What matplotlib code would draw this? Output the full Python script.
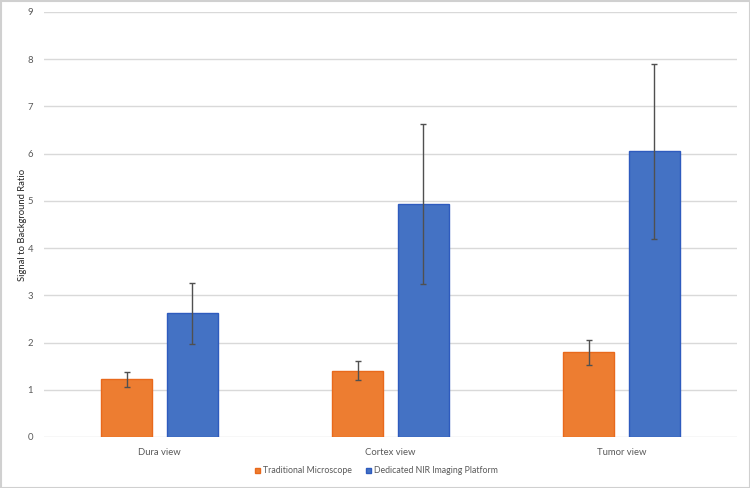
import numpy as np
import matplotlib.pyplot as plt
from matplotlib.patches import Rectangle

categories = ["Dura view", "Cortex view", "Tumor view"]
trad_vals = [1.22, 1.40, 1.79]
trad_err = [0.16, 0.20, 0.26]
nir_vals = [2.62, 4.94, 6.05]
nir_err = [0.64, 1.69, 1.85]

plt.rcParams['font.family'] = ['Lato', 'DejaVu Sans']

fig = plt.figure(figsize=(7.5, 4.88), dpi=100)
ax = fig.add_axes([44/750, 1-437/488, (737-44)/750, (437-12)/488])

x = np.arange(len(categories))
w = 0.22
gap = 0.065
off = (w + gap) / 2

ax.bar(x - off, trad_vals, w, color='#ED7D31', edgecolor='#E8691C', linewidth=1,
       label='Traditional Microscope', zorder=3)
ax.bar(x + off, nir_vals, w, color='#4472C4', edgecolor='#2E5BBE', linewidth=1,
       label='Dedicated NIR Imaging Platform', zorder=3)
ax.errorbar(x - off, trad_vals, yerr=trad_err, fmt='none', ecolor='#505050',
            elinewidth=1, capsize=2.5, capthick=1, zorder=4)
ax.errorbar(x + off, nir_vals, yerr=nir_err, fmt='none', ecolor='#505050',
            elinewidth=1, capsize=2.5, capthick=1, zorder=4)

ax.set_xlim(-0.5, 2.5)
ax.set_ylim(0, 9)
ax.set_yticks(range(0, 10))
ax.set_xticks(x)
ax.set_xticklabels(categories)
ax.yaxis.grid(True, color='#D9D9D9', linewidth=1, zorder=0)
for s in ax.spines.values():
    s.set_visible(False)
ax.tick_params(axis='both', length=0, labelsize=6.8, colors='#595959', pad=8)
ax.set_ylabel('Signal to Background Ratio', fontsize=6.8, color='#262626', labelpad=0)

ax.legend(loc='upper center', bbox_to_anchor=(0.48, -0.05), ncol=2, frameon=False,
          fontsize=6.3, labelcolor='#595959', handlelength=0.5, handleheight=0.5,
          handletextpad=0.4, columnspacing=1.6)

fig.patches.append(Rectangle((0.5/750, 0.5/488), 1-1/750, 1-1/488, transform=fig.transFigure,
                             fill=False, edgecolor='#D0D0D0', linewidth=1.5))

fig.savefig('out.png', dpi=100)
